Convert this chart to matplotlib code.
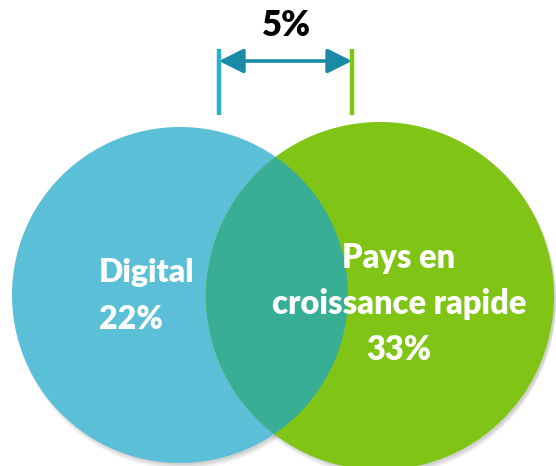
import matplotlib
matplotlib.use("Agg")
import matplotlib.pyplot as plt
from matplotlib.patches import Circle, FancyArrowPatch

# ---------------------------------------------------------------------------
# Chart data
# ---------------------------------------------------------------------------
SET_LABELS = ["Digital", "Pays en\ncroissance rapide"]
SET_SHARES = [22, 33]          # % per set
OVERLAP_GAP = 5                # % shown above the arrow

BLUE = "#5bbfd7"
GREEN = "#80c516"
TEAL = "#38ae95"
ARROW = "#1b8aa6"
FONT = ["Lato", "DejaVu Sans"]

W, H = 556, 466
fig = plt.figure(figsize=(W / 100, H / 100), dpi=100)
ax = fig.add_axes([0, 0, 1, 1])
ax.set_xlim(0, W)
ax.set_ylim(H, 0)
ax.set_aspect("equal")
ax.axis("off")

# circle geometry (pixel space)
c_blue, r_blue = (180, 295), 168
c_green, r_green = (380, 296), 174

# soft shadows
for k, a in [(6, 0.05), (4, 0.06), (2, 0.07)]:
    ax.add_patch(Circle((c_blue[0] + 2, c_blue[1] + k), r_blue, fc="black", ec="none", alpha=a))
    ax.add_patch(Circle((c_green[0] + 2, c_green[1] + k), r_green, fc="black", ec="none", alpha=a))

blue = Circle(c_blue, r_blue, fc=BLUE, ec="none")
ax.add_patch(blue)
ax.add_patch(Circle(c_green, r_green, fc=GREEN, ec="none"))
inter = Circle(c_green, r_green, fc=TEAL, ec="none")
ax.add_patch(inter)
inter.set_clip_path(blue)

# gap marker
x_left, x_right = 219, 352
ax.plot([x_left, x_left], [49, 115], color="#29afd0", lw=3.2, solid_capstyle="butt")
ax.plot([x_right, x_right], [49, 115], color="#7ec515", lw=3.2, solid_capstyle="butt")
ax.add_patch(FancyArrowPatch((x_left, 61), (x_right, 61), arrowstyle="<|-|>,head_length=10,head_width=5",
                             mutation_scale=1.5, color=ARROW, lw=2.6, shrinkA=0, shrinkB=0))
ax.text(286, 26, f"{OVERLAP_GAP}%", ha="center", va="center", fontsize=25,
        fontweight="heavy", family=FONT, color="black")

# set labels
ax.text(99, 296, f"{SET_LABELS[0]}\n{SET_SHARES[0]}%", ha="left", va="center", fontsize=23,
        fontweight="heavy", family=FONT, color="white", linespacing=1.75)
ax.text(399, 304, f"{SET_LABELS[1]}\n{SET_SHARES[1]}%", ha="center", va="center", fontsize=23.5,
        fontweight="heavy", family=FONT, color="white", linespacing=1.55)

fig.savefig("out.png", dpi=100, facecolor="white")
